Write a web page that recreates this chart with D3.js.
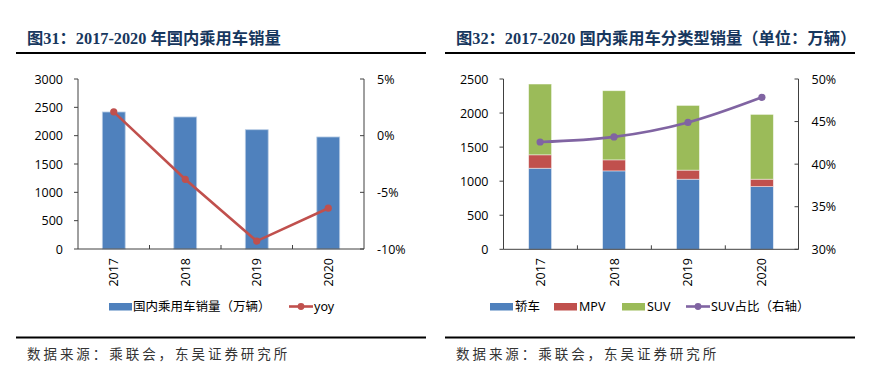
<!DOCTYPE html>
<html><head><meta charset="utf-8">
<script src="https://cdn.jsdelivr.net/npm/d3@7/dist/d3.min.js"></script>
<style>
body{margin:0;background:#fff;}
svg{display:block;}
text{font-family:"Open Sans","Noto Sans CJK SC",sans-serif;}
.cjk{font-family:"Noto Sans","Noto Sans CJK SC",sans-serif;}
.title{font-family:"Liberation Serif","Noto Sans CJK SC",serif;font-weight:bold;fill:#17375E;font-size:16.3px;}
.src{font-family:"Noto Sans CJK SC",sans-serif;fill:#333;font-size:13.5px;letter-spacing:2.95px;}
</style></head><body>
<svg id="c" width="887" height="388"></svg>
<script>
const years = ["2017","2018","2019","2020"];
// Chart 31
const totalSales = [2418, 2330, 2105, 1977];
const yoy = [2.1, -3.85, -9.3, -6.4];
const leftTicks1 = [0,500,1000,1500,2000,2500,3000];
const rightTicks1 = [-10,-5,0,5];
// Chart 32
const sedan = [1190, 1151, 1029, 921];
const mpv = [197, 162, 133, 108];
const suv = [1039, 1015, 950, 951];
const suvShare = [42.6, 43.2, 44.9, 47.85];
const leftTicks2 = [0,500,1000,1500,2000,2500];
const rightTicks2 = [30,35,40,45,50];

const C = {blue:"#4F81BD", red:"#C0504D", green:"#9BBB59", purple:"#8064A2", axis:"#404040"};
const svg = d3.select("#c");

function frame(x0, x1, titleX, title, ruleX0, ruleX1){
  svg.append("text").attr("class","title").attr("x",titleX).attr("y",44).text(title);
  svg.append("line").attr("x1",ruleX0).attr("x2",ruleX1).attr("y1",53).attr("y2",53).attr("stroke","#000").attr("stroke-width",2.2);
  svg.append("line").attr("x1",ruleX0).attr("x2",ruleX1).attr("y1",337.5).attr("y2",337.5).attr("stroke","#000").attr("stroke-width",2.2);
  svg.append("text").attr("class","src").attr("x",titleX).attr("y",359).text("数据来源：乘联会，东吴证券研究所");
}

function axes(g, x, yL, yR, ticksL, ticksR, fmtR, x0, x1, y0, y1){
  g.append("line").attr("x1",x0).attr("x2",x0).attr("y1",y0).attr("y2",y1).attr("stroke",C.axis);
  ticksL.forEach(t=>{
    g.append("line").attr("x1",x0-4).attr("x2",x0).attr("y1",yL(t)).attr("y2",yL(t)).attr("stroke",C.axis);
    g.append("text").attr("x",x0-15).attr("y",yL(t)+4.5).attr("text-anchor","end").attr("font-size",12.5).attr("fill","#000").text(t);
  });
  g.append("line").attr("x1",x1).attr("x2",x1).attr("y1",y0).attr("y2",y1).attr("stroke",C.axis);
  ticksR.forEach(t=>{
    g.append("line").attr("x1",x1-4).attr("x2",x1).attr("y1",yR(t)).attr("y2",yR(t)).attr("stroke",C.axis);
    g.append("text").attr("x",x1+13).attr("y",yR(t)+4.5).attr("text-anchor","start").attr("font-size",12.5).attr("fill","#000").text(fmtR(t));
  });
  g.append("line").attr("x1",x0).attr("x2",x1).attr("y1",y1).attr("y2",y1).attr("stroke",C.axis);
  const step = x.step();
  for(let i=1;i<years.length;i++){
    const bx = x0 + i*step;
    g.append("line").attr("x1",bx).attr("x2",bx).attr("y1",y1-4).attr("y2",y1).attr("stroke",C.axis);
  }
  years.forEach(yv=>{
    const cx = x(yv)+x.bandwidth()/2;
    g.append("text").attr("transform",`translate(${cx+4.5},${258}) rotate(-90)`).attr("text-anchor","end").attr("font-size",12.5).attr("fill","#000").text(yv);
  });
}

// ---------- Chart 31 ----------
{
  const x0=78, x1=364, yTop=79, yBot=249;
  frame(0,0,27,"图31：2017-2020 年国内乘用车销量",16,426);
  const g = svg.append("g");
  const x = d3.scaleBand().domain(years).range([x0,x1]).paddingInner(0.68).paddingOuter(0.34);
  const yL = d3.scaleLinear().domain([0,3000]).range([yBot,yTop]);
  const yR = d3.scaleLinear().domain([-10,5]).range([yBot,yTop]);
  g.selectAll("rect.b").data(totalSales).join("rect").attr("class","b")
    .attr("x",(d,i)=>x(years[i])).attr("width",x.bandwidth())
    .attr("y",d=>yL(d)).attr("height",d=>yBot-yL(d))
    .attr("fill",C.blue).attr("stroke","#B9CDE5").attr("stroke-width",0.8);
  axes(g,x,yL,yR,leftTicks1,rightTicks1,t=>t+"%",x0,x1,yTop,yBot);
  const line = d3.line().x((d,i)=>x(years[i])+x.bandwidth()/2).y(d=>yR(d));
  g.append("path").attr("d",line(yoy)).attr("fill","none").attr("stroke",C.red).attr("stroke-width",2.6);
  g.selectAll("circle.p").data(yoy).join("circle").attr("class","p")
    .attr("cx",(d,i)=>x(years[i])+x.bandwidth()/2).attr("cy",d=>yR(d)).attr("r",3.6).attr("fill",C.red);
  g.append("rect").attr("x",109).attr("y",303).attr("width",23).attr("height",7.5).attr("fill",C.blue);
  g.append("text").attr("class","cjk").attr("x",133).attr("y",311).attr("font-size",12.5).text("国内乘用车销量（万辆）");
  g.append("line").attr("x1",289).attr("x2",313).attr("y1",306.5).attr("y2",306.5).attr("stroke",C.red).attr("stroke-width",2.6);
  g.append("circle").attr("cx",301).attr("cy",306.5).attr("r",3.4).attr("fill",C.red);
  g.append("text").attr("class","cjk").attr("x",314).attr("y",311).attr("font-size",12.5).text("yoy");
}

// ---------- Chart 32 ----------
{
  const x0=503.5, x1=798.5, yTop=79, yBot=249.3;
  frame(0,0,456,"图32：2017-2020 国内乘用车分类型销量（单位：万辆）",445,855);
  const g = svg.append("g");
  const x = d3.scaleBand().domain(years).range([x0,x1]).paddingInner(0.69).paddingOuter(0.34);
  const yL = d3.scaleLinear().domain([0,2500]).range([yBot,yTop]);
  const yR = d3.scaleLinear().domain([30,50]).range([yBot,yTop]);
  const rows = years.map((yv,i)=>({year:yv, sedan:sedan[i], mpv:mpv[i], suv:suv[i]}));
  const stack = d3.stack().keys(["sedan","mpv","suv"])(rows);
  const colors = {sedan:C.blue, mpv:C.red, suv:C.green};
  stack.forEach(layer=>{
    g.selectAll("rect.s-"+layer.key).data(layer).join("rect").attr("class","s-"+layer.key)
      .attr("x",d=>x(d.data.year)).attr("width",x.bandwidth())
      .attr("y",d=>yL(d[1])).attr("height",d=>yL(d[0])-yL(d[1]))
      .attr("fill",colors[layer.key]).attr("stroke","rgba(255,255,255,0.55)").attr("stroke-width",0.8);
  });
  axes(g,x,yL,yR,leftTicks2,rightTicks2,t=>t+"%",x0,x1,yTop,yBot);
  const line = d3.line().x((d,i)=>x(years[i])+x.bandwidth()/2).y(d=>yR(d)).curve(d3.curveCatmullRom.alpha(0.5));
  g.append("path").attr("d",line(suvShare)).attr("fill","none").attr("stroke",C.purple).attr("stroke-width",2.6);
  g.selectAll("circle.p").data(suvShare).join("circle").attr("class","p")
    .attr("cx",(d,i)=>x(years[i])+x.bandwidth()/2).attr("cy",d=>yR(d)).attr("r",3.6).attr("fill",C.purple);
  const items = [{x:490,t:"轿车",c:C.blue},{x:554,t:"MPV",c:C.red},{x:622,t:"SUV",c:C.green}];
  items.forEach(it=>{
    g.append("rect").attr("x",it.x).attr("y",303).attr("width",23).attr("height",7.5).attr("fill",it.c);
    g.append("text").attr("class","cjk").attr("x",it.x+25).attr("y",311).attr("font-size",12.5).text(it.t);
  });
  g.append("line").attr("x1",686).attr("x2",710).attr("y1",306.5).attr("y2",306.5).attr("stroke",C.purple).attr("stroke-width",2.6);
  g.append("circle").attr("cx",698).attr("cy",306.5).attr("r",3.4).attr("fill",C.purple);
  g.append("text").attr("class","cjk").attr("x",711).attr("y",311).attr("font-size",12.5).text("SUV占比（右轴）");
}
</script></body></html>
